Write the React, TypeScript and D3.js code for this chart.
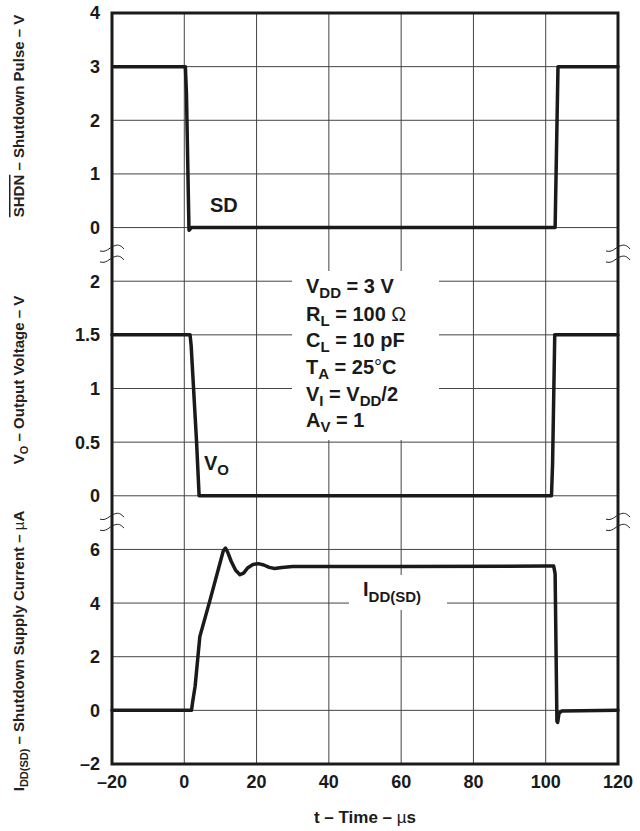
import React from 'react';
import * as d3 from 'd3';

// ---- data ----
const xTicks = [-20, 0, 20, 40, 60, 80, 100, 120];
const xTickLabels = ['–20', '0', '20', '40', '60', '80', '100', '120'];

const sdTicks = [0, 1, 2, 3, 4];
const sdTickLabels = ['0', '1', '2', '3', '4'];
const voTicks = [0, 0.5, 1, 1.5, 2];
const voTickLabels = ['0', '0.5', '1', '1.5', '2'];
const iddTicks = [-2, 0, 2, 4, 6];
const iddTickLabels = ['–2', '0', '2', '4', '6'];

const sdTime = [-19.5, 0.3, 0.6, 1.3, 2.0, 102.6, 103.4, 120];
const sdValue = [3, 3, 2.5, -0.05, 0.0, 0.0, 3, 3];

const voTime = [-20, 1.6, 1.9, 3.4, 4.1, 101.6, 101.9, 102.5, 120];
const voValue = [1.5, 1.5, 1.4, 0.5, 0, 0, 0.3, 1.5, 1.5];

const iddTime = [-20, 2.0, 2.3, 3.0, 4.3, 7.1, 10.8, 11.4, 12.0, 13.0, 14.2, 15.4, 16.4, 17.6, 19.0, 20.5, 22.0, 23.5, 25.0, 27.0, 30, 60, 100, 102.2, 102.6, 103.1, 103.3, 103.7, 104.5, 120];
const iddValue = [0, 0, 0.3, 0.9, 2.75, 4.1, 5.95, 6.05, 5.9, 5.55, 5.22, 5.06, 5.12, 5.32, 5.44, 5.47, 5.42, 5.33, 5.29, 5.33, 5.36, 5.36, 5.38, 5.38, 5.1, -0.4, -0.45, -0.1, -0.02, 0];

// ---- layout ----
const W = 640, H = 831;
const X0 = 112, X1 = 618, Y0 = 13, Y1 = 764;
const ROWS = 14;
const rowH = (Y1 - Y0) / ROWS;

const FONT = "'Liberation Sans', Arial, Helvetica, sans-serif";
const INK = '#1a1a1a';

export default function App() {
  const x = d3.scaleLinear().domain([-20, 120]).range([X0, X1]);
  const ySD = d3.scaleLinear().domain([0, 4]).range([Y0 + 4 * rowH, Y0]);
  const yVO = d3.scaleLinear().domain([0, 2]).range([Y0 + 9 * rowH, Y0 + 5 * rowH]);
  const yID = d3.scaleLinear().domain([-2, 6]).range([Y1, Y0 + 10 * rowH]);

  const sdLine = d3.line<number>().x((_, i) => x(sdTime[i])).y((d) => ySD(d));
  const voLine = d3.line<number>().x((_, i) => x(voTime[i])).y((d) => yVO(d));
  const idLine = d3.line<number>().x((_, i) => x(iddTime[i])).y((d) => yID(d));

  const hGrid = d3.range(1, ROWS).map((i) => Y0 + i * rowH);
  const vGrid = xTicks.slice(1, -1);

  const breaks = [Y0 + 4.5 * rowH, Y0 + 9.5 * rowH];
  const tilde = (cx: number, cy: number) =>
    `M${cx - 12},${cy + 2} C${cx - 6},${cy + 4} ${cx - 3},${cy - 1} ${cx + 2},${cy - 3} S${cx + 9},${cy - 3} ${cx + 12},${cy}`;

  const tickFs = 18;
  const annFs = 20;
  const subFs = 15;
  const annLines = [293, 320.7, 347.3, 374, 400.5, 427];

  const yLabels = (
    ticks: number[],
    labels: string[],
    scale: d3.ScaleLinear<number, number>,
    key: string
  ) =>
    ticks.map((t, i) => (
      <text
        key={key + i}
        x={100}
        y={scale(t)}
        dy="0.36em"
        textAnchor="end"
        fontSize={tickFs}
        fontWeight="bold"
        fill={INK}
      >
        {labels[i]}
      </text>
    ));

  return (
    <svg
      width={W}
      height={H}
      viewBox={`0 0 ${W} ${H}`}
      style={{ position: 'absolute', left: 0, top: 0, background: '#fff' }}
      fontFamily={FONT}
    >
      <rect x={0} y={0} width={W} height={H} fill="#fff" />
      {/* grid */}
      <g stroke="#444" strokeWidth={1}>
        {hGrid.map((y, i) => (
          <line key={'h' + i} x1={X0} x2={X1} y1={y} y2={y} />
        ))}
        {vGrid.map((v, i) => (
          <line key={'v' + i} x1={x(v)} x2={x(v)} y1={Y0} y2={Y1} />
        ))}
      </g>
      {/* white boxes behind text */}
      <rect x={292} y={271} width={147} height={169} fill="#fff" />
      <rect x={349} y={575} width={98} height={35} fill="#fff" />

      {/* frame */}
      <rect x={X0} y={Y0} width={X1 - X0} height={Y1 - Y0} fill="none" stroke={INK} strokeWidth={3} />

      {/* break marks */}
      <g fill="none" stroke="#222" strokeWidth={1}>
        {breaks.map((b, i) =>
          [X0, X1].map((ax, j) => (
            <g key={'b' + i + j}>
              <path d={tilde(ax, b - 5.5)} />
              <path d={tilde(ax, b + 5.5)} />
            </g>
          ))
        )}
      </g>

      {/* traces */}
      <g fill="none" stroke={INK} strokeWidth={3.5} strokeLinejoin="round" strokeLinecap="round">
        <path d={sdLine(sdValue) || ''} />
        <path d={voLine(voValue) || ''} />
        <path d={idLine(iddValue) || ''} />
      </g>

      {/* y tick labels */}
      {yLabels(sdTicks, sdTickLabels, ySD, 'sd')}
      {yLabels(voTicks, voTickLabels, yVO, 'vo')}
      {yLabels(iddTicks, iddTickLabels, yID, 'id')}

      {/* x tick labels */}
      {xTicks.map((t, i) => (
        <text
          key={'x' + i}
          x={x(t)}
          y={788}
          textAnchor="middle"
          fontSize={tickFs}
          fontWeight="bold"
          fill={INK}
        >
          {xTickLabels[i]}
        </text>
      ))}
      <text x={x(50)} y={823} textAnchor="middle" fontSize={17} fontWeight="bold" fill={INK}>
        t – Time – <tspan fontWeight="normal">µ</tspan>s
      </text>

      {/* y titles */}
      <g fontSize={15} fontWeight="bold" fill="#222">
        <text transform={`translate(24,116) rotate(-90)`} textAnchor="middle">
          <tspan textDecoration="overline" style={{ textDecoration: 'overline' }}>SHDN</tspan> – Shutdown Pulse – V
        </text>
        <text transform={`translate(24,380) rotate(-90)`} textAnchor="middle">
          V<tspan fontSize={11} dy={4}>O</tspan>
          <tspan dy={-4}> – Output Voltage – V</tspan>
        </text>
        <text transform={`translate(24,651) rotate(-90)`} textAnchor="middle">
          I<tspan fontSize={11} dy={4}>DD(SD)</tspan>
          <tspan dy={-4}> – Shutdown Supply Current – </tspan>
          <tspan fontWeight="normal">µ</tspan>A
        </text>
      </g>

      {/* curve labels */}
      <g fontWeight="bold" fill={INK} fontSize={annFs}>
        <text x={210} y={212}>SD</text>
        <text x={204} y={470}>
          V<tspan fontSize={subFs} dy={5}>O</tspan>
        </text>
        <text x={363} y={596}>
          I<tspan fontSize={subFs} dy={6}>DD(SD)</tspan>
        </text>
      </g>

      {/* conditions */}
      <g fontWeight="bold" fill={INK} fontSize={annFs}>
        <text x={306} y={annLines[0]}>
          V<tspan fontSize={subFs} dy={5}>DD</tspan>
          <tspan dy={-5}> = 3 V</tspan>
        </text>
        <text x={306} y={annLines[1]}>
          R<tspan fontSize={subFs} dy={5}>L</tspan>
          <tspan dy={-5}> = 100 </tspan>
          <tspan fontWeight="normal">Ω</tspan>
        </text>
        <text x={306} y={annLines[2]}>
          C<tspan fontSize={subFs} dy={5}>L</tspan>
          <tspan dy={-5}> = 10 pF</tspan>
        </text>
        <text x={306} y={annLines[3]}>
          T<tspan fontSize={subFs} dy={5}>A</tspan>
          <tspan dy={-5}> = 25</tspan>
          <tspan fontWeight="normal">°</tspan>C
        </text>
        <text x={306} y={annLines[4]}>
          V<tspan fontSize={subFs} dy={5}>I</tspan>
          <tspan dy={-5}> = V</tspan>
          <tspan fontSize={subFs} dy={5}>DD</tspan>
          <tspan dy={-5}>/2</tspan>
        </text>
        <text x={306} y={annLines[5]}>
          A<tspan fontSize={subFs} dy={5}>V</tspan>
          <tspan dy={-5}> = 1</tspan>
        </text>
      </g>
    </svg>
  );
}
